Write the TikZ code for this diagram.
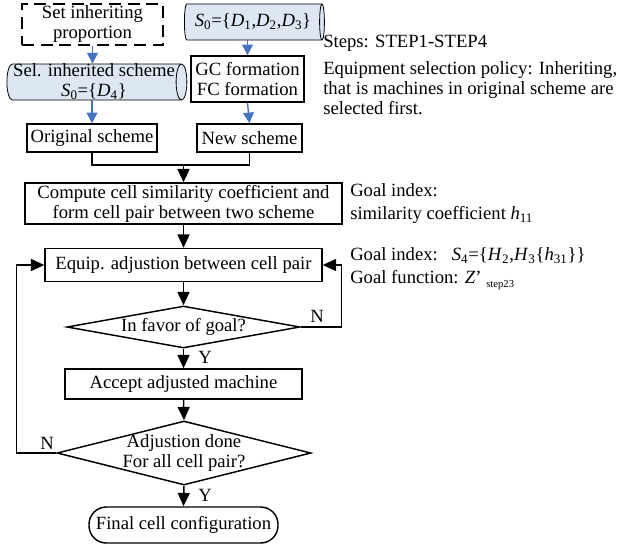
\documentclass[tikz,border=0pt]{standalone}
\usepackage{fontspec}
\setmainfont{Liberation Serif}
\usetikzlibrary{shapes.geometric,arrows.meta}
\definecolor{cylblue}{RGB}{221,231,243}
\definecolor{arrowblue}{RGB}{68,114,196}
\newcommand{\sv}[2]{\textit{#1}\textsubscript{#2}}
\begin{document}
\begin{tikzpicture}[x=0.75pt,y=-0.75pt,
        font=\fontsize{14}{15}\selectfont,
        box/.style={draw,line width=1.1pt,inner sep=0pt,align=center},
        dbox/.style={box,dash pattern=on 9pt off 5pt},
        cyl/.style={cylinder,draw,line width=0.6pt,aspect=0.3,inner sep=0pt,align=center,
            cylinder uses custom fill,cylinder body fill=cylblue,cylinder end fill=cylblue},
        dec/.style={diamond,draw,line width=1.1pt,inner sep=0pt},
        flow/.style={line width=1.1pt,-{Triangle[length=10pt,width=9pt]}},
        bflow/.style={draw=arrowblue,line width=1pt,-{Triangle[length=8pt,width=8pt]}},
        link/.style={line width=1.1pt},
        note/.style={anchor=west,inner sep=0pt,align=left}]
        \useasboundingbox (0,0) rectangle (618,544);

        \node[dbox,minimum width=105.75pt,minimum height=30.75pt] (set) at (92.5,24.5) {Set inheriting\\proportion};
        \node[cyl,minimum height=105pt,minimum width=27pt] (sall) at (253,22) {\sv{S}{0}=\{\sv{D}{1},\sv{D}{2},\sv{D}{3}\}};
        \node[cyl,minimum height=135pt,minimum width=27pt] (sel) at (94,82) {Sel. inherited scheme\\\sv{S}{0}=\{\sv{D}{4}\}};
        \node[box,minimum width=84.75pt,minimum height=34.5pt] (gc) at (247.5,79) {GC formation\\FC formation};
        \node[box,minimum width=97.5pt,minimum height=21pt] (orig) at (92,138) {Original scheme};
        \node[box,minimum width=78.75pt,minimum height=21pt] (new) at (249.5,138) {New scheme};
        \coordinate (merge) at (183.5,165);
        \node[box,minimum width=237.75pt,minimum height=30.75pt] (comp) at (183.5,203.5) {Compute cell similarity coefficient and\\form cell pair between two scheme};
        \node[box,minimum width=207.75pt,minimum height=24.75pt] (equip) at (183.5,265) {Equip. adjustion between cell pair};
        \node[dec,minimum width=174.75pt,minimum height=31.5pt,label={center:In favor of goal?}] (favor) at (183.5,327) {};
        \node[box,minimum width=177.75pt,minimum height=22.5pt] (accept) at (183.5,384) {Accept adjusted machine};
        \node[dec,minimum width=190.5pt,minimum height=48pt,label={[align=center]center:Adjustion done\\For all cell pair?}] (done) at (184,453) {};
        \node[box,rounded corners=13pt,minimum width=141.75pt,minimum height=27pt] (final) at (183.5,525) {Final cell configuration};

        \draw[bflow] (set.south) -- (set.south |- sel.north);
        \draw[bflow] (gc.north |- sall.south) -- (gc.north);
        \draw[bflow] (orig.north |- sel.south) -- (orig.north);
        \draw[bflow] (gc.south) -- (new.north);
        \draw[link] (orig.south) |- (merge) -| (new.south);
        \draw[flow] (merge) -- (comp.north);
        \draw[flow] (comp.south) -- (equip.north);
        \draw[flow] (equip.south) -- (favor.north);
        \draw[flow] (favor.south) -- (accept.north);
        \draw[flow] (accept.south) -- (done.north);
        \draw[flow] (done.south) -- (final.north);
        \draw[flow] (favor.east) -- ++(41,0) |- (equip.east);
        \draw[flow] (done.west) -- ++(-40,0) |- (equip.west);

        \node (ny) at (205,357) {Y};
        \node (dy) at (205,495) {Y};
        \node (nn) at (317,316) {N};
        \node (dn) at (47,443) {N};

        \node[note] (steps) at (323,43) {Steps: STEP1-STEP4};
        \node[note] (policy) at (323,88) {Equipment selection policy: Inheriting,\\that is machines in original scheme are\\selected first.};
        \node[note] (goal) at (350,203.5) {Goal index:\\[2pt]similarity coefficient \sv{h}{11}};
        \node[note] (gfun) at (350,269) {Goal index:~~~\sv{S}{4}=\{\sv{H}{2},\sv{H}{3}\{\sv{h}{31}\}\}\\[2pt]Goal function: \textit{Z}\textquoteright\ \raisebox{-0.5ex}{\footnotesize step23}};
    \end{tikzpicture}
\end{document}
